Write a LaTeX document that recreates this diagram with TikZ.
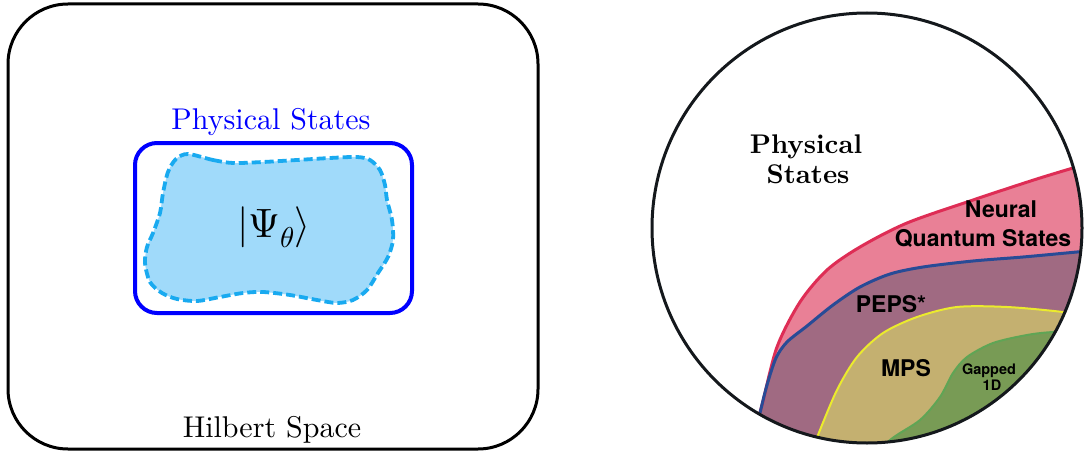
\documentclass[tikz,border=0pt]{standalone}
\usepackage{fontspec}
\usepackage{unicode-math}
\setmainfont{lmroman10-regular.otf}[BoldFont=lmroman10-bold.otf]
\setmathfont{Latin Modern Math}
\newfontfamily\helv{TeX Gyre Heros}
\definecolor{blobfill}{RGB}{160,218,250}
\definecolor{blobline}{RGB}{25,170,240}
\definecolor{nqsfill}{RGB}{233,128,150}
\definecolor{nqsline}{RGB}{222,45,85}
\definecolor{pepsfill}{RGB}{160,106,130}
\definecolor{pepsline}{RGB}{40,75,150}
\definecolor{mpsfill}{RGB}{196,176,112}
\definecolor{mpsline}{RGB}{235,235,45}
\definecolor{gapfill}{RGB}{120,155,85}
\definecolor{gapline}{RGB}{95,165,85}
\definecolor{rim}{RGB}{20,24,28}
\tikzset{
  seriflbl/.style={anchor=base, font=\fontsize{30}{34}\selectfont},
  boldlbl/.style={anchor=base, font=\bfseries\fontsize{27}{30}\selectfont},
  sanslbl/.style={anchor=base, font=\helv\bfseries\fontsize{23}{28}\selectfont},
  smalllbl/.style={anchor=base, font=\helv\bfseries\fontsize{14.5}{16}\selectfont}
}
\begin{document}
\begin{tikzpicture}[x=1pt, y=-1pt]
\useasboundingbox (0,0) rectangle (1084,452);
\draw[line width=3pt, rounded corners=60pt] (8,4) rectangle (538,449);
\draw[blue, line width=4pt, rounded corners=22pt] (135,143) rectangle (412,313);
\draw[blobline, fill=blobfill, line width=3.8pt, dash pattern=on 9pt off 4pt]
  plot[smooth cycle] coordinates {(188,154) (213,160) (233,163) (263,162) (297,160) (330,158) (357,157) (370,160) (380,170) (385,185) (387,200) (392,220) (393,240) (388,257) (378,273) (367,290) (353,300) (337,303) (317,300) (290,295) (263,292) (243,293) (220,297) (197,301) (177,299) (162,293) (150,282) (145,263) (147,247) (153,233) (160,213) (163,193) (168,172) (176,159)};
\node[seriflbl, text=blue] (physlbl) at (271,129) {Physical States};
\node[seriflbl] (hilbertlbl) at (272,437) {Hilbert Space};
\node[font=\fontsize{41}{48}\selectfont] (psi) at (274,227) {$|\Psi_\theta\rangle$};
\begin{scope}
  \clip (867,228) circle (215pt);
  \fill[nqsfill] plot[smooth] coordinates {(752,440) (762,405) (777,347) (800,302) (827,270) (860,247) (907,223) (973,200) (1040,178) (1100,160)} -- (1200,160) -- (1200,600) -- (752,600) -- cycle;
  \fill[pepsfill] plot[smooth] coordinates {(754,440) (760,413) (767,385) (776,358) (787,342) (807,326) (833,305) (860,287) (890,274) (923,267) (973,261) (1023,257) (1077,252) (1100,250)} -- (1200,250) -- (1200,600) -- (754,600) -- cycle;
  \fill[mpsfill] plot[smooth] coordinates {(805,470) (818,435) (837,390) (857,357) (883,333) (917,317) (957,307) (1007,307) (1063,312) (1100,318)} -- (1200,318) -- (1200,600) -- (805,600) -- cycle;
  \fill[gapfill] plot[smooth] coordinates {(860,470) (890,440) (920,420) (940,397) (953,373) (967,357) (993,343) (1027,335) (1053,332) (1100,330)} -- (1200,330) -- (1200,600) -- (860,600) -- cycle;
  \draw[nqsline, line width=3pt] plot[smooth] coordinates {(752,440) (762,405) (777,347) (800,302) (827,270) (860,247) (907,223) (973,200) (1040,178) (1100,160)};
  \draw[pepsline, line width=3pt] plot[smooth] coordinates {(754,440) (760,413) (767,385) (776,358) (787,342) (807,326) (833,305) (860,287) (890,274) (923,267) (973,261) (1023,257) (1077,252) (1100,250)};
  \draw[mpsline, line width=2pt] plot[smooth] coordinates {(805,470) (818,435) (837,390) (857,357) (883,333) (917,317) (957,307) (1007,307) (1063,312) (1100,318)};
  \draw[gapline, line width=2pt] plot[smooth] coordinates {(860,470) (890,440) (920,420) (940,397) (953,373) (967,357) (993,343) (1027,335) (1053,332) (1100,330)};
\end{scope}
\draw[rim, line width=3pt] (867,228) circle (215pt);
\node[boldlbl] (phys1) at (806,153) {Physical};
\node[boldlbl] (phys2) at (808,183) {States};
\node[sanslbl] (nqs1) at (1001,217) {Neural};
\node[sanslbl] (nqs2) at (983,246) {Quantum States};
\node[sanslbl] (peps) at (891,312) {PEPS*};
\node[sanslbl] (mps) at (906,376) {MPS};
\node[smalllbl] (gap1) at (989,374) {Gapped};
\node[smalllbl] (gap2) at (992,390) {1D};
\end{tikzpicture}
\end{document}
